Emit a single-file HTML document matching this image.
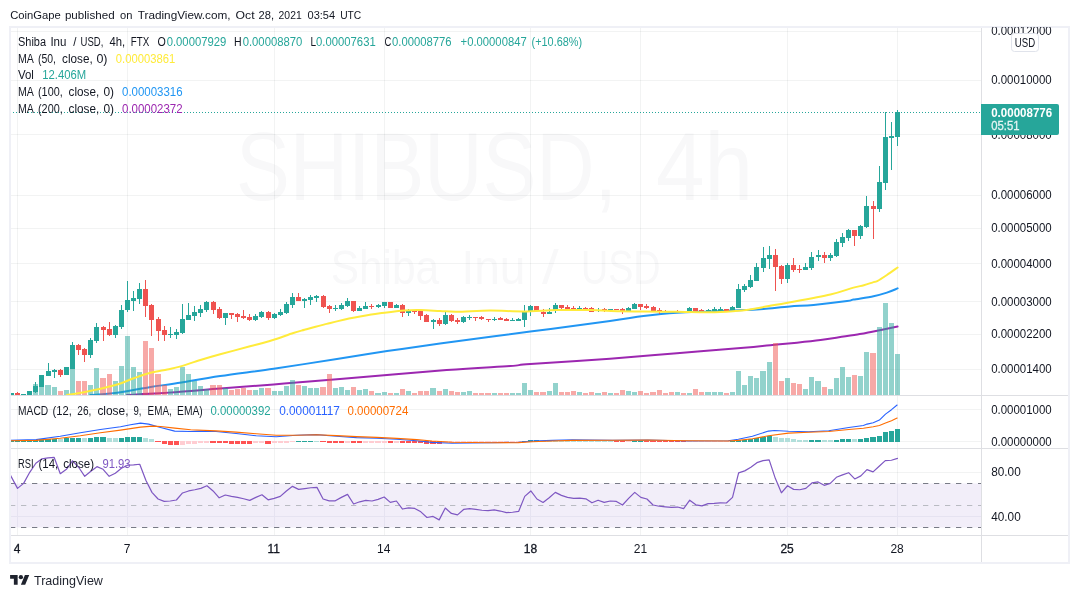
<!DOCTYPE html>
<html><head><meta charset="utf-8"><title>SHIBUSD chart</title>
<style>html,body{margin:0;padding:0;background:#fff;}body{width:1079px;height:598px;overflow:hidden;font-family:"Liberation Sans",sans-serif;}</style></head>
<body>
<svg width="1079" height="598" viewBox="0 0 1079 598" font-family="Liberation Sans, sans-serif" style="display:block;will-change:transform;transform:translateZ(0)">
<rect width="1079" height="598" fill="#fff"/>
<defs><clipPath id="cm"><rect x="10" y="27" width="971" height="368"/></clipPath><clipPath id="cd"><rect x="10" y="396" width="971" height="52"/></clipPath><clipPath id="cr"><rect x="10" y="449" width="971" height="86"/></clipPath><clipPath id="cax"><rect x="982" y="27" width="87" height="368"/></clipPath></defs>
<text x="236" y="200" font-size="97" fill="#f8f8f9" textLength="381" lengthAdjust="spacingAndGlyphs" >SHIBUSD,</text>
<text x="656" y="200" font-size="97" fill="#f8f8f9" textLength="97" lengthAdjust="spacingAndGlyphs" >4h</text>
<text x="330.7" y="283.5" font-size="48" fill="#f8f8f9" textLength="108.5" lengthAdjust="spacingAndGlyphs" >Shiba</text>
<text x="461.4" y="283.5" font-size="48" fill="#f8f8f9" textLength="64" lengthAdjust="spacingAndGlyphs" >Inu</text>
<text x="542" y="283.5" font-size="48" fill="#f8f8f9" textLength="16.7" lengthAdjust="spacingAndGlyphs" >/</text>
<text x="581" y="283.5" font-size="48" fill="#f8f8f9" textLength="79.5" lengthAdjust="spacingAndGlyphs" >USD</text>
<g stroke="rgba(42,46,57,0.06)" stroke-width="1" shape-rendering="crispEdges">
<line x1="17.5" y1="27" x2="17.5" y2="535"/>
<line x1="127.5" y1="27" x2="127.5" y2="535"/>
<line x1="274.5" y1="27" x2="274.5" y2="535"/>
<line x1="384.5" y1="27" x2="384.5" y2="535"/>
<line x1="530.5" y1="27" x2="530.5" y2="535"/>
<line x1="640.5" y1="27" x2="640.5" y2="535"/>
<line x1="787.5" y1="27" x2="787.5" y2="535"/>
<line x1="897.5" y1="27" x2="897.5" y2="535"/>
<line x1="10" y1="31.5" x2="981" y2="31.5"/>
<line x1="10" y1="80.5" x2="981" y2="80.5"/>
<line x1="10" y1="134.5" x2="981" y2="134.5"/>
<line x1="10" y1="195.5" x2="981" y2="195.5"/>
<line x1="10" y1="228.5" x2="981" y2="228.5"/>
<line x1="10" y1="263.5" x2="981" y2="263.5"/>
<line x1="10" y1="301.5" x2="981" y2="301.5"/>
<line x1="10" y1="334.5" x2="981" y2="334.5"/>
<line x1="10" y1="369.5" x2="981" y2="369.5"/>
<line x1="10" y1="409.5" x2="981" y2="409.5"/>
<line x1="10" y1="441.5" x2="981" y2="441.5"/>
<line x1="10" y1="472.5" x2="981" y2="472.5"/>
<line x1="10" y1="516.5" x2="981" y2="516.5"/>
</g>
<rect x="10" y="483.5" width="971" height="44" fill="#f2eef9"/>
<g stroke="#e6e3f1" stroke-width="1" shape-rendering="crispEdges">
<line x1="10" y1="516.5" x2="981" y2="516.5"/>
<line x1="17.5" y1="484" x2="17.5" y2="527"/>
<line x1="127.5" y1="484" x2="127.5" y2="527"/>
<line x1="274.5" y1="484" x2="274.5" y2="527"/>
<line x1="384.5" y1="484" x2="384.5" y2="527"/>
<line x1="530.5" y1="484" x2="530.5" y2="527"/>
<line x1="640.5" y1="484" x2="640.5" y2="527"/>
<line x1="787.5" y1="484" x2="787.5" y2="527"/>
<line x1="897.5" y1="484" x2="897.5" y2="527"/>
</g>
<g stroke-width="1" fill="none" stroke-dasharray="5.3 5.7">
<line x1="10" y1="483.5" x2="981" y2="483.5" stroke="#787b86"/>
<line x1="10" y1="505.5" x2="981" y2="505.5" stroke="#b9bbc2"/>
<line x1="10" y1="527.5" x2="981" y2="527.5" stroke="#787b86"/>
</g>
<g clip-path="url(#cm)">
<path d="M127 395 C135 394.55 159.47 393.37 175 392.3 C190.53 391.23 203.75 389.92 220.2 388.6 C236.65 387.28 253.73 386.02 273.7 384.4 C293.67 382.78 311.17 381.3 340 378.9 C368.83 376.5 418.37 372.15 446.7 370 C475.03 367.85 496.07 367 510 366 C523.93 365 513.63 365.22 530.3 364 C546.97 362.78 585.57 360.48 610 358.7 C634.43 356.92 654.6 355.12 676.9 353.3 C699.2 351.48 728.23 349.15 743.8 347.8 C759.37 346.45 761.43 346.05 770.3 345.2 C779.17 344.35 788.63 343.55 797 342.7 C805.37 341.85 813.52 341 820.5 340.1 C827.48 339.2 832.35 338.3 838.9 337.3 C845.45 336.3 854.03 335.08 859.8 334.1 C865.57 333.12 867.2 332.65 873.5 331.4 C879.8 330.15 893.58 327.4 897.6 326.6" fill="none" stroke="#9c27b0" stroke-width="2" stroke-linejoin="round" stroke-linecap="round" />
<path d="M90.3 395 C94.77 394.63 107.05 394.13 117.1 392.8 C127.15 391.47 140.95 388.55 150.6 387 C160.25 385.45 163.4 385.33 175 383.5 C186.6 381.67 203.75 378.47 220.2 376 C236.65 373.53 254.25 371.53 273.7 368.7 C293.15 365.87 318 361.93 336.9 359 C355.8 356.07 369.92 353.67 387.1 351.1 C404.28 348.53 416.13 346.85 440 343.6 C463.87 340.35 501.97 335.37 530.3 331.6 C558.63 327.83 591.13 323.6 610 321 C628.87 318.4 632.35 317.38 643.5 316 C654.65 314.62 665.75 313.45 676.9 312.7 C688.05 311.95 699.25 311.93 710.4 311.5 C721.55 311.07 734.95 310.52 743.8 310.1 C752.65 309.68 755.83 309.6 763.5 309 C771.17 308.4 781.45 307.18 789.8 306.5 C798.15 305.82 804.05 305.8 813.6 304.9 C823.15 304 840.45 301.98 847.1 301.1 C853.75 300.22 849.1 300.42 853.5 299.6 C857.9 298.78 867.93 297.37 873.5 296.2 C879.07 295.03 882.88 293.9 886.9 292.6 C890.92 291.3 895.82 289.1 897.6 288.4" fill="none" stroke="#2196f3" stroke-width="2" stroke-linejoin="round" stroke-linecap="round" />
</g>
<g clip-path="url(#cm)" shape-rendering="crispEdges">
<rect x="9" y="393.2" width="5" height="1.8" fill="rgba(38,166,154,0.5)"/>
<rect x="15" y="393.2" width="5" height="1.8" fill="rgba(239,83,80,0.5)"/>
<rect x="21" y="394.3" width="5" height="0.7" fill="rgba(38,166,154,0.5)"/>
<rect x="27" y="391.2" width="5" height="3.8" fill="rgba(38,166,154,0.5)"/>
<rect x="33" y="384.1" width="5" height="10.9" fill="rgba(38,166,154,0.5)"/>
<rect x="39" y="387" width="5" height="8" fill="rgba(38,166,154,0.5)"/>
<rect x="45" y="385" width="6" height="10" fill="rgba(38,166,154,0.5)"/>
<rect x="52" y="387" width="5" height="8" fill="rgba(38,166,154,0.5)"/>
<rect x="58" y="391.2" width="5" height="3.8" fill="rgba(239,83,80,0.5)"/>
<rect x="64" y="390.3" width="5" height="4.7" fill="rgba(38,166,154,0.5)"/>
<rect x="70" y="369.2" width="5" height="25.8" fill="rgba(38,166,154,0.5)"/>
<rect x="76" y="381.1" width="5" height="13.9" fill="rgba(239,83,80,0.5)"/>
<rect x="82" y="381.1" width="5" height="13.9" fill="rgba(239,83,80,0.5)"/>
<rect x="88" y="385" width="5" height="10" fill="rgba(38,166,154,0.5)"/>
<rect x="94" y="367.9" width="5" height="27.1" fill="rgba(38,166,154,0.5)"/>
<rect x="100" y="377.9" width="6" height="17.1" fill="rgba(239,83,80,0.5)"/>
<rect x="107" y="373.9" width="5" height="21.1" fill="rgba(239,83,80,0.5)"/>
<rect x="113" y="380.9" width="5" height="14.1" fill="rgba(38,166,154,0.5)"/>
<rect x="119" y="366.1" width="5" height="28.9" fill="rgba(38,166,154,0.5)"/>
<rect x="125" y="336" width="5" height="59" fill="rgba(38,166,154,0.5)"/>
<rect x="131" y="366.9" width="5" height="28.1" fill="rgba(38,166,154,0.5)"/>
<rect x="137" y="371.9" width="5" height="23.1" fill="rgba(38,166,154,0.5)"/>
<rect x="143" y="341" width="5" height="54" fill="rgba(239,83,80,0.5)"/>
<rect x="149" y="348" width="5" height="47" fill="rgba(239,83,80,0.5)"/>
<rect x="155" y="374.1" width="6" height="20.9" fill="rgba(239,83,80,0.5)"/>
<rect x="162" y="385.3" width="5" height="9.7" fill="rgba(239,83,80,0.5)"/>
<rect x="168" y="389" width="5" height="6" fill="rgba(38,166,154,0.5)"/>
<rect x="174" y="387.3" width="5" height="7.7" fill="rgba(38,166,154,0.5)"/>
<rect x="180" y="366.6" width="5" height="28.4" fill="rgba(38,166,154,0.5)"/>
<rect x="186" y="374.1" width="5" height="20.9" fill="rgba(38,166,154,0.5)"/>
<rect x="192" y="380.6" width="5" height="14.4" fill="rgba(38,166,154,0.5)"/>
<rect x="198" y="386.1" width="5" height="8.9" fill="rgba(38,166,154,0.5)"/>
<rect x="204" y="388.6" width="5" height="6.4" fill="rgba(38,166,154,0.5)"/>
<rect x="210" y="385.3" width="6" height="9.7" fill="rgba(239,83,80,0.5)"/>
<rect x="217" y="385.3" width="5" height="9.7" fill="rgba(239,83,80,0.5)"/>
<rect x="223" y="388.3" width="5" height="6.7" fill="rgba(38,166,154,0.5)"/>
<rect x="229" y="390" width="5" height="5" fill="rgba(239,83,80,0.5)"/>
<rect x="235" y="388.6" width="5" height="6.4" fill="rgba(239,83,80,0.5)"/>
<rect x="241" y="387.8" width="5" height="7.2" fill="rgba(239,83,80,0.5)"/>
<rect x="247" y="390" width="5" height="5" fill="rgba(239,83,80,0.5)"/>
<rect x="253" y="390.3" width="5" height="4.7" fill="rgba(38,166,154,0.5)"/>
<rect x="259" y="388.1" width="5" height="6.9" fill="rgba(38,166,154,0.5)"/>
<rect x="265" y="388.1" width="6" height="6.9" fill="rgba(239,83,80,0.5)"/>
<rect x="272" y="391.2" width="5" height="3.8" fill="rgba(38,166,154,0.5)"/>
<rect x="278" y="391.2" width="5" height="3.8" fill="rgba(38,166,154,0.5)"/>
<rect x="284" y="386.1" width="5" height="8.9" fill="rgba(38,166,154,0.5)"/>
<rect x="290" y="380.3" width="5" height="14.7" fill="rgba(38,166,154,0.5)"/>
<rect x="296" y="385.3" width="5" height="9.7" fill="rgba(239,83,80,0.5)"/>
<rect x="302" y="386.1" width="5" height="8.9" fill="rgba(38,166,154,0.5)"/>
<rect x="308" y="388.1" width="5" height="6.9" fill="rgba(38,166,154,0.5)"/>
<rect x="314" y="388.1" width="5" height="6.9" fill="rgba(38,166,154,0.5)"/>
<rect x="320" y="387" width="6" height="8" fill="rgba(239,83,80,0.5)"/>
<rect x="327" y="374.1" width="5" height="20.9" fill="rgba(239,83,80,0.5)"/>
<rect x="333" y="388.1" width="5" height="6.9" fill="rgba(38,166,154,0.5)"/>
<rect x="339" y="387.3" width="5" height="7.7" fill="rgba(38,166,154,0.5)"/>
<rect x="345" y="390.3" width="5" height="4.7" fill="rgba(38,166,154,0.5)"/>
<rect x="351" y="387.3" width="5" height="7.7" fill="rgba(239,83,80,0.5)"/>
<rect x="357" y="390.3" width="5" height="4.7" fill="rgba(38,166,154,0.5)"/>
<rect x="363" y="389.1" width="5" height="5.9" fill="rgba(38,166,154,0.5)"/>
<rect x="369" y="391.2" width="5" height="3.8" fill="rgba(239,83,80,0.5)"/>
<rect x="375" y="393.2" width="6" height="1.8" fill="rgba(38,166,154,0.5)"/>
<rect x="382" y="392.3" width="5" height="2.7" fill="rgba(38,166,154,0.5)"/>
<rect x="388" y="393.2" width="5" height="1.8" fill="rgba(239,83,80,0.5)"/>
<rect x="394" y="393.2" width="5" height="1.8" fill="rgba(38,166,154,0.5)"/>
<rect x="400" y="389.1" width="5" height="5.9" fill="rgba(239,83,80,0.5)"/>
<rect x="406" y="391.2" width="5" height="3.8" fill="rgba(38,166,154,0.5)"/>
<rect x="412" y="393.2" width="5" height="1.8" fill="rgba(239,83,80,0.5)"/>
<rect x="418" y="391.2" width="5" height="3.8" fill="rgba(239,83,80,0.5)"/>
<rect x="424" y="391.2" width="5" height="3.8" fill="rgba(239,83,80,0.5)"/>
<rect x="430" y="388.1" width="6" height="6.9" fill="rgba(38,166,154,0.5)"/>
<rect x="437" y="391.2" width="5" height="3.8" fill="rgba(239,83,80,0.5)"/>
<rect x="443" y="389.1" width="5" height="5.9" fill="rgba(38,166,154,0.5)"/>
<rect x="449" y="391.2" width="5" height="3.8" fill="rgba(239,83,80,0.5)"/>
<rect x="455" y="392.3" width="5" height="2.7" fill="rgba(239,83,80,0.5)"/>
<rect x="461" y="392.3" width="5" height="2.7" fill="rgba(38,166,154,0.5)"/>
<rect x="467" y="391.2" width="5" height="3.8" fill="rgba(38,166,154,0.5)"/>
<rect x="473" y="393.2" width="5" height="1.8" fill="rgba(239,83,80,0.5)"/>
<rect x="479" y="393.2" width="5" height="1.8" fill="rgba(239,83,80,0.5)"/>
<rect x="485" y="393.2" width="6" height="1.8" fill="rgba(239,83,80,0.5)"/>
<rect x="492" y="393.2" width="5" height="1.8" fill="rgba(38,166,154,0.5)"/>
<rect x="498" y="393.2" width="5" height="1.8" fill="rgba(239,83,80,0.5)"/>
<rect x="504" y="393.2" width="5" height="1.8" fill="rgba(239,83,80,0.5)"/>
<rect x="510" y="393.2" width="5" height="1.8" fill="rgba(38,166,154,0.5)"/>
<rect x="516" y="393.2" width="5" height="1.8" fill="rgba(38,166,154,0.5)"/>
<rect x="522" y="383.1" width="5" height="11.9" fill="rgba(38,166,154,0.5)"/>
<rect x="528" y="390.3" width="5" height="4.7" fill="rgba(38,166,154,0.5)"/>
<rect x="534" y="392.3" width="5" height="2.7" fill="rgba(239,83,80,0.5)"/>
<rect x="540" y="392.3" width="6" height="2.7" fill="rgba(239,83,80,0.5)"/>
<rect x="547" y="391.2" width="5" height="3.8" fill="rgba(38,166,154,0.5)"/>
<rect x="553" y="383.1" width="5" height="11.9" fill="rgba(38,166,154,0.5)"/>
<rect x="559" y="392.3" width="5" height="2.7" fill="rgba(239,83,80,0.5)"/>
<rect x="565" y="392.3" width="5" height="2.7" fill="rgba(239,83,80,0.5)"/>
<rect x="571" y="391.2" width="5" height="3.8" fill="rgba(239,83,80,0.5)"/>
<rect x="577" y="392.3" width="5" height="2.7" fill="rgba(38,166,154,0.5)"/>
<rect x="583" y="393.2" width="5" height="1.8" fill="rgba(239,83,80,0.5)"/>
<rect x="589" y="392.3" width="5" height="2.7" fill="rgba(239,83,80,0.5)"/>
<rect x="595" y="393.2" width="6" height="1.8" fill="rgba(38,166,154,0.5)"/>
<rect x="602" y="392.3" width="5" height="2.7" fill="rgba(239,83,80,0.5)"/>
<rect x="608" y="393.2" width="5" height="1.8" fill="rgba(38,166,154,0.5)"/>
<rect x="614" y="393.2" width="5" height="1.8" fill="rgba(239,83,80,0.5)"/>
<rect x="620" y="390.3" width="5" height="4.7" fill="rgba(239,83,80,0.5)"/>
<rect x="626" y="391.2" width="5" height="3.8" fill="rgba(38,166,154,0.5)"/>
<rect x="632" y="392.3" width="5" height="2.7" fill="rgba(38,166,154,0.5)"/>
<rect x="638" y="391.2" width="5" height="3.8" fill="rgba(239,83,80,0.5)"/>
<rect x="644" y="393.2" width="5" height="1.8" fill="rgba(239,83,80,0.5)"/>
<rect x="650" y="392.3" width="6" height="2.7" fill="rgba(239,83,80,0.5)"/>
<rect x="657" y="390.3" width="5" height="4.7" fill="rgba(239,83,80,0.5)"/>
<rect x="663" y="393.2" width="5" height="1.8" fill="rgba(239,83,80,0.5)"/>
<rect x="669" y="392.3" width="5" height="2.7" fill="rgba(239,83,80,0.5)"/>
<rect x="675" y="392.3" width="5" height="2.7" fill="rgba(38,166,154,0.5)"/>
<rect x="681" y="393.2" width="5" height="1.8" fill="rgba(239,83,80,0.5)"/>
<rect x="687" y="393.2" width="5" height="1.8" fill="rgba(38,166,154,0.5)"/>
<rect x="693" y="389.1" width="5" height="5.9" fill="rgba(239,83,80,0.5)"/>
<rect x="699" y="392" width="5" height="3" fill="rgba(239,83,80,0.5)"/>
<rect x="705" y="392" width="6" height="3" fill="rgba(38,166,154,0.5)"/>
<rect x="712" y="392" width="5" height="3" fill="rgba(38,166,154,0.5)"/>
<rect x="718" y="392" width="5" height="3" fill="rgba(38,166,154,0.5)"/>
<rect x="724" y="393.2" width="5" height="1.8" fill="rgba(239,83,80,0.5)"/>
<rect x="730" y="392" width="5" height="3" fill="rgba(38,166,154,0.5)"/>
<rect x="736" y="371.1" width="5" height="23.9" fill="rgba(38,166,154,0.5)"/>
<rect x="742" y="385" width="5" height="10" fill="rgba(38,166,154,0.5)"/>
<rect x="748" y="376.1" width="5" height="18.9" fill="rgba(38,166,154,0.5)"/>
<rect x="754" y="378.1" width="5" height="16.9" fill="rgba(38,166,154,0.5)"/>
<rect x="760" y="371.1" width="6" height="23.9" fill="rgba(38,166,154,0.5)"/>
<rect x="767" y="362.2" width="5" height="32.8" fill="rgba(38,166,154,0.5)"/>
<rect x="773" y="343.1" width="5" height="51.9" fill="rgba(239,83,80,0.5)"/>
<rect x="779" y="381.1" width="5" height="13.9" fill="rgba(239,83,80,0.5)"/>
<rect x="785" y="378.1" width="5" height="16.9" fill="rgba(38,166,154,0.5)"/>
<rect x="791" y="383.1" width="5" height="11.9" fill="rgba(239,83,80,0.5)"/>
<rect x="797" y="384.1" width="5" height="10.9" fill="rgba(239,83,80,0.5)"/>
<rect x="803" y="389.1" width="5" height="5.9" fill="rgba(38,166,154,0.5)"/>
<rect x="809" y="377.1" width="5" height="17.9" fill="rgba(38,166,154,0.5)"/>
<rect x="815" y="381.1" width="6" height="13.9" fill="rgba(38,166,154,0.5)"/>
<rect x="822" y="387" width="5" height="8" fill="rgba(239,83,80,0.5)"/>
<rect x="828" y="389.1" width="5" height="5.9" fill="rgba(38,166,154,0.5)"/>
<rect x="834" y="378.1" width="5" height="16.9" fill="rgba(38,166,154,0.5)"/>
<rect x="840" y="367.2" width="5" height="27.8" fill="rgba(38,166,154,0.5)"/>
<rect x="846" y="377.1" width="5" height="17.9" fill="rgba(38,166,154,0.5)"/>
<rect x="852" y="375.1" width="5" height="19.9" fill="rgba(239,83,80,0.5)"/>
<rect x="858" y="376.1" width="5" height="18.9" fill="rgba(38,166,154,0.5)"/>
<rect x="864" y="352.2" width="5" height="42.8" fill="rgba(38,166,154,0.5)"/>
<rect x="870" y="353.2" width="6" height="41.8" fill="rgba(239,83,80,0.5)"/>
<rect x="877" y="327.2" width="5" height="67.8" fill="rgba(38,166,154,0.5)"/>
<rect x="883" y="303.2" width="5" height="91.8" fill="rgba(38,166,154,0.5)"/>
<rect x="889" y="323" width="5" height="72" fill="rgba(38,166,154,0.5)"/>
<rect x="895" y="354" width="5" height="41" fill="rgba(38,166,154,0.5)"/>
</g>
<g clip-path="url(#cm)" shape-rendering="crispEdges">
<rect x="11" y="393" width="1" height="2" fill="#26a69a"/>
<rect x="9" y="393" width="5" height="2" fill="#26a69a"/>
<rect x="17" y="392" width="1" height="3" fill="#ef5350"/>
<rect x="15" y="393" width="5" height="2" fill="#ef5350"/>
<rect x="23" y="394" width="1" height="1" fill="#26a69a"/>
<rect x="21" y="394" width="5" height="1" fill="#26a69a"/>
<rect x="29" y="391" width="1" height="4" fill="#26a69a"/>
<rect x="27" y="391" width="5" height="4" fill="#26a69a"/>
<rect x="35" y="382" width="1" height="11" fill="#26a69a"/>
<rect x="33" y="386" width="5" height="6" fill="#26a69a"/>
<rect x="41" y="375" width="1" height="12" fill="#26a69a"/>
<rect x="39" y="375" width="5" height="12" fill="#26a69a"/>
<rect x="48" y="363" width="1" height="13" fill="#26a69a"/>
<rect x="46" y="371" width="5" height="5" fill="#26a69a"/>
<rect x="54" y="369" width="1" height="9" fill="#26a69a"/>
<rect x="52" y="370" width="5" height="2" fill="#26a69a"/>
<rect x="60" y="369" width="1" height="8" fill="#ef5350"/>
<rect x="58" y="370" width="5" height="5" fill="#ef5350"/>
<rect x="66" y="367" width="1" height="8" fill="#26a69a"/>
<rect x="64" y="367" width="5" height="8" fill="#26a69a"/>
<rect x="72" y="342" width="1" height="27" fill="#26a69a"/>
<rect x="70" y="345" width="5" height="24" fill="#26a69a"/>
<rect x="78" y="344" width="1" height="11" fill="#ef5350"/>
<rect x="76" y="345" width="5" height="5" fill="#ef5350"/>
<rect x="84" y="348" width="1" height="14" fill="#ef5350"/>
<rect x="82" y="349" width="5" height="6" fill="#ef5350"/>
<rect x="90" y="338" width="1" height="20" fill="#26a69a"/>
<rect x="88" y="340" width="5" height="15" fill="#26a69a"/>
<rect x="96" y="323" width="1" height="20" fill="#26a69a"/>
<rect x="94" y="327" width="5" height="14" fill="#26a69a"/>
<rect x="103" y="326" width="1" height="15" fill="#ef5350"/>
<rect x="101" y="327" width="5" height="3" fill="#ef5350"/>
<rect x="109" y="322" width="1" height="14" fill="#ef5350"/>
<rect x="107" y="329" width="5" height="6" fill="#ef5350"/>
<rect x="115" y="325" width="1" height="13" fill="#26a69a"/>
<rect x="113" y="326" width="5" height="9" fill="#26a69a"/>
<rect x="121" y="305" width="1" height="24" fill="#26a69a"/>
<rect x="119" y="310" width="5" height="17" fill="#26a69a"/>
<rect x="127" y="281" width="1" height="31" fill="#26a69a"/>
<rect x="125" y="300" width="5" height="10" fill="#26a69a"/>
<rect x="133" y="291" width="1" height="20" fill="#26a69a"/>
<rect x="131" y="298" width="5" height="3" fill="#26a69a"/>
<rect x="139" y="283" width="1" height="21" fill="#26a69a"/>
<rect x="137" y="289" width="5" height="10" fill="#26a69a"/>
<rect x="145" y="280" width="1" height="37" fill="#ef5350"/>
<rect x="143" y="289" width="5" height="17" fill="#ef5350"/>
<rect x="151" y="304" width="1" height="32" fill="#ef5350"/>
<rect x="149" y="305" width="5" height="15" fill="#ef5350"/>
<rect x="158" y="317" width="1" height="24" fill="#ef5350"/>
<rect x="156" y="319" width="5" height="12" fill="#ef5350"/>
<rect x="164" y="326" width="1" height="15" fill="#ef5350"/>
<rect x="162" y="330" width="5" height="5" fill="#ef5350"/>
<rect x="170" y="327" width="1" height="11" fill="#26a69a"/>
<rect x="168" y="334" width="5" height="1" fill="#26a69a"/>
<rect x="176" y="329" width="1" height="10" fill="#26a69a"/>
<rect x="174" y="332" width="5" height="3" fill="#26a69a"/>
<rect x="182" y="304" width="1" height="30" fill="#26a69a"/>
<rect x="180" y="319" width="5" height="14" fill="#26a69a"/>
<rect x="188" y="303" width="1" height="17" fill="#26a69a"/>
<rect x="186" y="315" width="5" height="5" fill="#26a69a"/>
<rect x="194" y="306" width="1" height="15" fill="#26a69a"/>
<rect x="192" y="312" width="5" height="4" fill="#26a69a"/>
<rect x="200" y="305" width="1" height="12" fill="#26a69a"/>
<rect x="198" y="309" width="5" height="4" fill="#26a69a"/>
<rect x="206" y="301" width="1" height="11" fill="#26a69a"/>
<rect x="204" y="302" width="5" height="8" fill="#26a69a"/>
<rect x="213" y="301" width="1" height="13" fill="#ef5350"/>
<rect x="211" y="302" width="5" height="8" fill="#ef5350"/>
<rect x="219" y="307" width="1" height="12" fill="#ef5350"/>
<rect x="217" y="309" width="5" height="9" fill="#ef5350"/>
<rect x="225" y="313" width="1" height="12" fill="#26a69a"/>
<rect x="223" y="313" width="5" height="5" fill="#26a69a"/>
<rect x="231" y="313" width="1" height="6" fill="#ef5350"/>
<rect x="229" y="313" width="5" height="2" fill="#ef5350"/>
<rect x="237" y="313" width="1" height="9" fill="#ef5350"/>
<rect x="235" y="314" width="5" height="3" fill="#ef5350"/>
<rect x="243" y="310" width="1" height="9" fill="#ef5350"/>
<rect x="241" y="316" width="5" height="2" fill="#ef5350"/>
<rect x="249" y="314" width="1" height="7" fill="#ef5350"/>
<rect x="247" y="317" width="5" height="3" fill="#ef5350"/>
<rect x="255" y="314" width="1" height="7" fill="#26a69a"/>
<rect x="253" y="316" width="5" height="4" fill="#26a69a"/>
<rect x="261" y="311" width="1" height="7" fill="#26a69a"/>
<rect x="259" y="312" width="5" height="5" fill="#26a69a"/>
<rect x="268" y="311" width="1" height="9" fill="#ef5350"/>
<rect x="266" y="312" width="5" height="6" fill="#ef5350"/>
<rect x="274" y="313" width="1" height="6" fill="#26a69a"/>
<rect x="272" y="314" width="5" height="4" fill="#26a69a"/>
<rect x="280" y="309" width="1" height="7" fill="#26a69a"/>
<rect x="278" y="312" width="5" height="3" fill="#26a69a"/>
<rect x="286" y="302" width="1" height="12" fill="#26a69a"/>
<rect x="284" y="304" width="5" height="9" fill="#26a69a"/>
<rect x="292" y="293" width="1" height="15" fill="#26a69a"/>
<rect x="290" y="297" width="5" height="8" fill="#26a69a"/>
<rect x="298" y="293" width="1" height="8" fill="#ef5350"/>
<rect x="296" y="297" width="5" height="4" fill="#ef5350"/>
<rect x="304" y="298" width="1" height="10" fill="#26a69a"/>
<rect x="302" y="299" width="5" height="2" fill="#26a69a"/>
<rect x="310" y="295" width="1" height="10" fill="#26a69a"/>
<rect x="308" y="297" width="5" height="3" fill="#26a69a"/>
<rect x="316" y="295" width="1" height="7" fill="#26a69a"/>
<rect x="314" y="296" width="5" height="2" fill="#26a69a"/>
<rect x="323" y="295" width="1" height="13" fill="#ef5350"/>
<rect x="321" y="296" width="5" height="11" fill="#ef5350"/>
<rect x="329" y="305" width="1" height="8" fill="#ef5350"/>
<rect x="327" y="306" width="5" height="3" fill="#ef5350"/>
<rect x="335" y="305" width="1" height="6" fill="#26a69a"/>
<rect x="333" y="308" width="5" height="1" fill="#26a69a"/>
<rect x="341" y="303" width="1" height="7" fill="#26a69a"/>
<rect x="339" y="305" width="5" height="4" fill="#26a69a"/>
<rect x="347" y="298" width="1" height="9" fill="#26a69a"/>
<rect x="345" y="301" width="5" height="5" fill="#26a69a"/>
<rect x="353" y="301" width="1" height="11" fill="#ef5350"/>
<rect x="351" y="301" width="5" height="10" fill="#ef5350"/>
<rect x="359" y="306" width="1" height="5" fill="#26a69a"/>
<rect x="357" y="308" width="5" height="3" fill="#26a69a"/>
<rect x="365" y="302" width="1" height="7" fill="#26a69a"/>
<rect x="363" y="306" width="5" height="3" fill="#26a69a"/>
<rect x="371" y="304" width="1" height="5" fill="#ef5350"/>
<rect x="369" y="306" width="5" height="1" fill="#ef5350"/>
<rect x="378" y="304" width="1" height="4" fill="#26a69a"/>
<rect x="376" y="305" width="5" height="2" fill="#26a69a"/>
<rect x="384" y="302" width="1" height="6" fill="#26a69a"/>
<rect x="382" y="302" width="5" height="4" fill="#26a69a"/>
<rect x="390" y="302" width="1" height="6" fill="#ef5350"/>
<rect x="388" y="302" width="5" height="6" fill="#ef5350"/>
<rect x="396" y="304" width="1" height="4" fill="#26a69a"/>
<rect x="394" y="305" width="5" height="3" fill="#26a69a"/>
<rect x="402" y="304" width="1" height="13" fill="#ef5350"/>
<rect x="400" y="305" width="5" height="8" fill="#ef5350"/>
<rect x="408" y="309" width="1" height="7" fill="#26a69a"/>
<rect x="406" y="310" width="5" height="3" fill="#26a69a"/>
<rect x="414" y="311" width="1" height="3" fill="#ef5350"/>
<rect x="412" y="311" width="5" height="1" fill="#ef5350"/>
<rect x="420" y="311" width="1" height="9" fill="#ef5350"/>
<rect x="418" y="311" width="5" height="5" fill="#ef5350"/>
<rect x="426" y="314" width="1" height="8" fill="#ef5350"/>
<rect x="424" y="315" width="5" height="7" fill="#ef5350"/>
<rect x="433" y="319" width="1" height="10" fill="#26a69a"/>
<rect x="431" y="320" width="5" height="2" fill="#26a69a"/>
<rect x="439" y="318" width="1" height="8" fill="#ef5350"/>
<rect x="437" y="320" width="5" height="4" fill="#ef5350"/>
<rect x="445" y="312" width="1" height="13" fill="#26a69a"/>
<rect x="443" y="315" width="5" height="9" fill="#26a69a"/>
<rect x="451" y="314" width="1" height="8" fill="#ef5350"/>
<rect x="449" y="315" width="5" height="6" fill="#ef5350"/>
<rect x="457" y="318" width="1" height="6" fill="#ef5350"/>
<rect x="455" y="320" width="5" height="2" fill="#ef5350"/>
<rect x="463" y="316" width="1" height="7" fill="#26a69a"/>
<rect x="461" y="317" width="5" height="5" fill="#26a69a"/>
<rect x="469" y="315" width="1" height="5" fill="#26a69a"/>
<rect x="467" y="317" width="5" height="1" fill="#26a69a"/>
<rect x="475" y="317" width="1" height="4" fill="#ef5350"/>
<rect x="473" y="317" width="5" height="1" fill="#ef5350"/>
<rect x="481" y="316" width="1" height="4" fill="#ef5350"/>
<rect x="479" y="317" width="5" height="2" fill="#ef5350"/>
<rect x="488" y="319" width="1" height="3" fill="#ef5350"/>
<rect x="486" y="319" width="5" height="1" fill="#ef5350"/>
<rect x="494" y="317" width="1" height="4" fill="#26a69a"/>
<rect x="492" y="319" width="5" height="1" fill="#26a69a"/>
<rect x="500" y="317" width="1" height="3" fill="#ef5350"/>
<rect x="498" y="318" width="5" height="2" fill="#ef5350"/>
<rect x="506" y="318" width="1" height="3" fill="#ef5350"/>
<rect x="504" y="319" width="5" height="2" fill="#ef5350"/>
<rect x="512" y="318" width="1" height="3" fill="#26a69a"/>
<rect x="510" y="320" width="5" height="1" fill="#26a69a"/>
<rect x="518" y="318" width="1" height="3" fill="#26a69a"/>
<rect x="516" y="319" width="5" height="2" fill="#26a69a"/>
<rect x="524" y="305" width="1" height="22" fill="#26a69a"/>
<rect x="522" y="311" width="5" height="9" fill="#26a69a"/>
<rect x="530" y="305" width="1" height="11" fill="#26a69a"/>
<rect x="528" y="306" width="5" height="5" fill="#26a69a"/>
<rect x="536" y="306" width="1" height="5" fill="#ef5350"/>
<rect x="534" y="306" width="5" height="5" fill="#ef5350"/>
<rect x="543" y="309" width="1" height="8" fill="#ef5350"/>
<rect x="541" y="312" width="5" height="2" fill="#ef5350"/>
<rect x="549" y="308" width="1" height="6" fill="#26a69a"/>
<rect x="547" y="312" width="5" height="2" fill="#26a69a"/>
<rect x="555" y="303" width="1" height="10" fill="#26a69a"/>
<rect x="553" y="305" width="5" height="5" fill="#26a69a"/>
<rect x="561" y="305" width="1" height="5" fill="#ef5350"/>
<rect x="559" y="305" width="5" height="3" fill="#ef5350"/>
<rect x="567" y="305" width="1" height="5" fill="#ef5350"/>
<rect x="565" y="307" width="5" height="2" fill="#ef5350"/>
<rect x="573" y="306" width="1" height="4" fill="#ef5350"/>
<rect x="571" y="308" width="5" height="1" fill="#ef5350"/>
<rect x="579" y="306" width="1" height="4" fill="#26a69a"/>
<rect x="577" y="308" width="5" height="1" fill="#26a69a"/>
<rect x="585" y="307" width="1" height="3" fill="#ef5350"/>
<rect x="583" y="308" width="5" height="1" fill="#ef5350"/>
<rect x="591" y="307" width="1" height="5" fill="#ef5350"/>
<rect x="589" y="308" width="5" height="4" fill="#ef5350"/>
<rect x="598" y="308" width="1" height="4" fill="#26a69a"/>
<rect x="596" y="310" width="5" height="1" fill="#26a69a"/>
<rect x="604" y="308" width="1" height="4" fill="#ef5350"/>
<rect x="602" y="309" width="5" height="2" fill="#ef5350"/>
<rect x="610" y="309" width="1" height="1" fill="#26a69a"/>
<rect x="608" y="309" width="5" height="1" fill="#26a69a"/>
<rect x="616" y="309" width="1" height="1" fill="#ef5350"/>
<rect x="614" y="309" width="5" height="1" fill="#ef5350"/>
<rect x="622" y="308" width="1" height="6" fill="#ef5350"/>
<rect x="620" y="309" width="5" height="2" fill="#ef5350"/>
<rect x="628" y="307" width="1" height="4" fill="#26a69a"/>
<rect x="626" y="308" width="5" height="3" fill="#26a69a"/>
<rect x="634" y="303" width="1" height="6" fill="#26a69a"/>
<rect x="632" y="304" width="5" height="5" fill="#26a69a"/>
<rect x="640" y="304" width="1" height="6" fill="#ef5350"/>
<rect x="638" y="304" width="5" height="3" fill="#ef5350"/>
<rect x="646" y="304" width="1" height="5" fill="#ef5350"/>
<rect x="644" y="306" width="5" height="2" fill="#ef5350"/>
<rect x="653" y="306" width="1" height="5" fill="#ef5350"/>
<rect x="651" y="307" width="5" height="4" fill="#ef5350"/>
<rect x="659" y="308" width="1" height="6" fill="#ef5350"/>
<rect x="657" y="310" width="5" height="1" fill="#ef5350"/>
<rect x="665" y="310" width="1" height="2" fill="#ef5350"/>
<rect x="663" y="311" width="5" height="1" fill="#ef5350"/>
<rect x="671" y="311" width="1" height="1" fill="#ef5350"/>
<rect x="669" y="311" width="5" height="1" fill="#ef5350"/>
<rect x="677" y="310" width="1" height="2" fill="#ef5350"/>
<rect x="675" y="311" width="5" height="1" fill="#ef5350"/>
<rect x="683" y="311" width="1" height="1" fill="#ef5350"/>
<rect x="681" y="311" width="5" height="1" fill="#ef5350"/>
<rect x="689" y="307" width="1" height="4" fill="#26a69a"/>
<rect x="687" y="308" width="5" height="3" fill="#26a69a"/>
<rect x="695" y="308" width="1" height="4" fill="#ef5350"/>
<rect x="693" y="308" width="5" height="3" fill="#ef5350"/>
<rect x="701" y="309" width="1" height="2" fill="#ef5350"/>
<rect x="699" y="310" width="5" height="1" fill="#ef5350"/>
<rect x="708" y="309" width="1" height="2" fill="#26a69a"/>
<rect x="706" y="310" width="5" height="1" fill="#26a69a"/>
<rect x="714" y="307" width="1" height="4" fill="#26a69a"/>
<rect x="712" y="309" width="5" height="2" fill="#26a69a"/>
<rect x="720" y="307" width="1" height="4" fill="#26a69a"/>
<rect x="718" y="309" width="5" height="2" fill="#26a69a"/>
<rect x="726" y="309" width="1" height="2" fill="#ef5350"/>
<rect x="724" y="309" width="5" height="2" fill="#ef5350"/>
<rect x="732" y="306" width="1" height="4" fill="#26a69a"/>
<rect x="730" y="307" width="5" height="3" fill="#26a69a"/>
<rect x="738" y="284" width="1" height="24" fill="#26a69a"/>
<rect x="736" y="289" width="5" height="19" fill="#26a69a"/>
<rect x="744" y="284" width="1" height="8" fill="#26a69a"/>
<rect x="742" y="286" width="5" height="4" fill="#26a69a"/>
<rect x="750" y="275" width="1" height="13" fill="#26a69a"/>
<rect x="748" y="280" width="5" height="7" fill="#26a69a"/>
<rect x="756" y="263" width="1" height="18" fill="#26a69a"/>
<rect x="754" y="267" width="5" height="14" fill="#26a69a"/>
<rect x="763" y="247" width="1" height="25" fill="#26a69a"/>
<rect x="761" y="258" width="5" height="10" fill="#26a69a"/>
<rect x="769" y="246" width="1" height="23" fill="#26a69a"/>
<rect x="767" y="255" width="5" height="4" fill="#26a69a"/>
<rect x="775" y="249" width="1" height="42" fill="#ef5350"/>
<rect x="773" y="255" width="5" height="12" fill="#ef5350"/>
<rect x="781" y="265" width="1" height="19" fill="#ef5350"/>
<rect x="779" y="266" width="5" height="13" fill="#ef5350"/>
<rect x="787" y="263" width="1" height="20" fill="#26a69a"/>
<rect x="785" y="265" width="5" height="14" fill="#26a69a"/>
<rect x="793" y="258" width="1" height="14" fill="#ef5350"/>
<rect x="791" y="265" width="5" height="5" fill="#ef5350"/>
<rect x="799" y="265" width="1" height="8" fill="#ef5350"/>
<rect x="797" y="269" width="5" height="1" fill="#ef5350"/>
<rect x="805" y="263" width="1" height="7" fill="#26a69a"/>
<rect x="803" y="267" width="5" height="3" fill="#26a69a"/>
<rect x="811" y="252" width="1" height="18" fill="#26a69a"/>
<rect x="809" y="257" width="5" height="11" fill="#26a69a"/>
<rect x="818" y="250" width="1" height="11" fill="#26a69a"/>
<rect x="816" y="255" width="5" height="2" fill="#26a69a"/>
<rect x="824" y="252" width="1" height="11" fill="#ef5350"/>
<rect x="822" y="255" width="5" height="3" fill="#ef5350"/>
<rect x="830" y="253" width="1" height="8" fill="#26a69a"/>
<rect x="828" y="255" width="5" height="3" fill="#26a69a"/>
<rect x="836" y="239" width="1" height="18" fill="#26a69a"/>
<rect x="834" y="242" width="5" height="14" fill="#26a69a"/>
<rect x="842" y="233" width="1" height="14" fill="#26a69a"/>
<rect x="840" y="237" width="5" height="6" fill="#26a69a"/>
<rect x="848" y="229" width="1" height="12" fill="#26a69a"/>
<rect x="846" y="230" width="5" height="8" fill="#26a69a"/>
<rect x="854" y="230" width="1" height="16" fill="#ef5350"/>
<rect x="852" y="230" width="5" height="6" fill="#ef5350"/>
<rect x="860" y="225" width="1" height="14" fill="#26a69a"/>
<rect x="858" y="226" width="5" height="10" fill="#26a69a"/>
<rect x="866" y="196" width="1" height="32" fill="#26a69a"/>
<rect x="864" y="206" width="5" height="21" fill="#26a69a"/>
<rect x="873" y="201" width="1" height="38" fill="#ef5350"/>
<rect x="871" y="206" width="5" height="3" fill="#ef5350"/>
<rect x="879" y="166" width="1" height="46" fill="#26a69a"/>
<rect x="877" y="182" width="5" height="27" fill="#26a69a"/>
<rect x="885" y="112" width="1" height="78" fill="#26a69a"/>
<rect x="883" y="137" width="5" height="46" fill="#26a69a"/>
<rect x="891" y="122" width="1" height="48" fill="#26a69a"/>
<rect x="889" y="136" width="5" height="2" fill="#26a69a"/>
<rect x="897" y="110" width="1" height="36" fill="#26a69a"/>
<rect x="895" y="112" width="5" height="25" fill="#26a69a"/>
</g>
<g clip-path="url(#cm)">
<path d="M66.9 395 C69.92 394.5 79.42 393.05 85 392 C90.58 390.95 95.05 389.95 100.4 388.7 C105.75 387.45 111.53 386.23 117.1 384.5 C122.67 382.77 128.22 380.25 133.8 378.3 C139.38 376.35 145.02 374.28 150.6 372.8 C156.18 371.32 162.43 370.43 167.3 369.4 C172.17 368.37 174.28 368.17 179.8 366.6 C185.32 365.03 193.67 362.05 200.4 360 C207.13 357.95 211.93 356.58 220.2 354.3 C228.47 352.02 243.37 348.07 250 346.3 C256.63 344.53 255.92 344.83 260 343.7 C264.08 342.57 268.93 341.28 274.5 339.5 C280.07 337.72 288.4 334.62 293.4 333 C298.4 331.38 300.8 330.85 304.5 329.8 C308.2 328.75 311.9 327.68 315.6 326.7 C319.3 325.72 322.98 324.83 326.7 323.9 C330.42 322.97 334.18 321.98 337.9 321.1 C341.62 320.22 345.3 319.38 349 318.6 C352.7 317.82 356.4 317.08 360.1 316.4 C363.8 315.72 367.88 315.02 371.2 314.5 C374.52 313.98 374.57 313.97 380 313.3 C385.43 312.63 397.03 311.03 403.8 310.5 C410.57 309.97 414.57 310.02 420.6 310.1 C426.63 310.18 433.98 310.72 440 311 C446.02 311.28 448.33 311.87 456.7 311.8 C465.07 311.73 479.05 310.65 490.2 310.6 C501.35 310.55 512.47 311.58 523.6 311.5 C534.73 311.42 545.93 310.33 557 310.1 C568.07 309.87 579.53 309.9 590 310.1 C600.47 310.3 610.88 311.07 619.8 311.3 C628.72 311.53 633.98 311.42 643.5 311.5 C653.02 311.58 665.75 311.68 676.9 311.8 C688.05 311.92 700.63 312.33 710.4 312.2 C720.17 312.07 729.17 311.4 735.5 311 C741.83 310.6 744.82 310.25 748.4 309.8 C751.98 309.35 753.58 308.93 757 308.3 C760.42 307.67 763.78 306.92 768.9 306 C774.02 305.08 777.45 304.72 787.7 302.8 C797.95 300.88 819.43 297.03 830.4 294.5 C841.37 291.97 847.93 289.13 853.5 287.6 C859.07 286.07 860.47 286.22 863.8 285.3 C867.13 284.38 871.27 282.8 873.5 282.1 C875.73 281.4 874.97 282.28 877.2 281.1 C879.43 279.92 883.5 277.27 886.9 275 C890.3 272.73 895.82 268.75 897.6 267.5" fill="none" stroke="#ffeb3b" stroke-width="2" stroke-linejoin="round" stroke-linecap="round" />
</g>
<line x1="10" y1="112.5" x2="981" y2="112.5" stroke="#26a69a" stroke-width="1" stroke-dasharray="1 2" shape-rendering="crispEdges"/>
<g clip-path="url(#cd)">
<rect x="9" y="440" width="5" height="2" fill="#26a69a"/>
<rect x="15" y="440" width="5" height="2" fill="#26a69a"/>
<rect x="21" y="440" width="5" height="2" fill="#26a69a"/>
<rect x="27" y="440" width="5" height="2" fill="#26a69a"/>
<rect x="33" y="440" width="5" height="2" fill="#26a69a"/>
<rect x="39" y="439" width="5" height="3" fill="#26a69a"/>
<rect x="45" y="439" width="6" height="3" fill="#26a69a"/>
<rect x="52" y="439" width="5" height="3" fill="#26a69a"/>
<rect x="58" y="439" width="5" height="3" fill="#b2dfdb"/>
<rect x="64" y="438" width="5" height="4" fill="#26a69a"/>
<rect x="70" y="438" width="5" height="4" fill="#26a69a"/>
<rect x="76" y="438" width="5" height="4" fill="#26a69a"/>
<rect x="82" y="438" width="5" height="4" fill="#b2dfdb"/>
<rect x="88" y="438" width="5" height="4" fill="#26a69a"/>
<rect x="94" y="437" width="5" height="5" fill="#26a69a"/>
<rect x="100" y="437" width="6" height="5" fill="#26a69a"/>
<rect x="107" y="438" width="5" height="4" fill="#b2dfdb"/>
<rect x="113" y="438" width="5" height="4" fill="#b2dfdb"/>
<rect x="119" y="438" width="5" height="4" fill="#26a69a"/>
<rect x="125" y="437" width="5" height="5" fill="#26a69a"/>
<rect x="131" y="437" width="5" height="5" fill="#26a69a"/>
<rect x="137" y="437" width="5" height="5" fill="#26a69a"/>
<rect x="143" y="438" width="5" height="4" fill="#b2dfdb"/>
<rect x="149" y="439" width="5" height="3" fill="#b2dfdb"/>
<rect x="155" y="441" width="6" height="1" fill="#ff5252"/>
<rect x="162" y="441" width="5" height="3" fill="#ff5252"/>
<rect x="168" y="441" width="5" height="4" fill="#ff5252"/>
<rect x="174" y="441" width="5" height="4" fill="#ff5252"/>
<rect x="180" y="441" width="5" height="4" fill="#ffcdd2"/>
<rect x="186" y="441" width="5" height="3" fill="#ffcdd2"/>
<rect x="192" y="441" width="5" height="3" fill="#ffcdd2"/>
<rect x="198" y="441" width="5" height="2" fill="#ffcdd2"/>
<rect x="204" y="441" width="5" height="2" fill="#ffcdd2"/>
<rect x="210" y="441" width="6" height="2" fill="#ff5252"/>
<rect x="217" y="441" width="5" height="2" fill="#ff5252"/>
<rect x="223" y="441" width="5" height="2" fill="#ff5252"/>
<rect x="229" y="441" width="5" height="3" fill="#ff5252"/>
<rect x="235" y="441" width="5" height="3" fill="#ff5252"/>
<rect x="241" y="441" width="5" height="3" fill="#ff5252"/>
<rect x="247" y="441" width="5" height="3" fill="#ff5252"/>
<rect x="253" y="441" width="5" height="2" fill="#ffcdd2"/>
<rect x="259" y="441" width="5" height="2" fill="#ffcdd2"/>
<rect x="265" y="441" width="6" height="3" fill="#ff5252"/>
<rect x="272" y="441" width="5" height="2" fill="#ffcdd2"/>
<rect x="278" y="441" width="5" height="2" fill="#ffcdd2"/>
<rect x="284" y="441" width="5" height="2" fill="#ffcdd2"/>
<rect x="290" y="441" width="5" height="1" fill="#ffcdd2"/>
<rect x="296" y="441" width="5" height="1" fill="#26a69a"/>
<rect x="302" y="441" width="5" height="1" fill="#26a69a"/>
<rect x="308" y="441" width="5" height="1" fill="#26a69a"/>
<rect x="314" y="441" width="5" height="1" fill="#b2dfdb"/>
<rect x="320" y="441" width="6" height="1" fill="#ff5252"/>
<rect x="327" y="441" width="5" height="2" fill="#ff5252"/>
<rect x="333" y="441" width="5" height="2" fill="#ff5252"/>
<rect x="339" y="441" width="5" height="2" fill="#ff5252"/>
<rect x="345" y="441" width="5" height="2" fill="#ffcdd2"/>
<rect x="351" y="441" width="5" height="2" fill="#ff5252"/>
<rect x="357" y="441" width="5" height="2" fill="#ff5252"/>
<rect x="363" y="441" width="5" height="2" fill="#ffcdd2"/>
<rect x="369" y="441" width="5" height="2" fill="#ffcdd2"/>
<rect x="375" y="441" width="6" height="2" fill="#ffcdd2"/>
<rect x="382" y="441" width="5" height="2" fill="#ffcdd2"/>
<rect x="388" y="441" width="5" height="2" fill="#ff5252"/>
<rect x="394" y="441" width="5" height="2" fill="#ffcdd2"/>
<rect x="400" y="441" width="5" height="2" fill="#ff5252"/>
<rect x="406" y="441" width="5" height="2" fill="#ff5252"/>
<rect x="412" y="441" width="5" height="2" fill="#ff5252"/>
<rect x="418" y="441" width="5" height="2" fill="#ff5252"/>
<rect x="424" y="441" width="5" height="3" fill="#ff5252"/>
<rect x="430" y="441" width="6" height="3" fill="#ff5252"/>
<rect x="437" y="441" width="5" height="3" fill="#ff5252"/>
<rect x="443" y="441" width="5" height="2" fill="#ffcdd2"/>
<rect x="449" y="441" width="5" height="2" fill="#ffcdd2"/>
<rect x="455" y="441" width="5" height="2" fill="#ffcdd2"/>
<rect x="461" y="441" width="5" height="1" fill="#ffcdd2"/>
<rect x="467" y="441" width="5" height="1" fill="#ffcdd2"/>
<rect x="473" y="441" width="5" height="1" fill="#ffcdd2"/>
<rect x="479" y="441" width="5" height="1" fill="#ffcdd2"/>
<rect x="485" y="441" width="6" height="1" fill="#ffcdd2"/>
<rect x="492" y="441" width="5" height="1" fill="#ffcdd2"/>
<rect x="498" y="441" width="5" height="1" fill="#ffcdd2"/>
<rect x="504" y="441" width="5" height="1" fill="#ffcdd2"/>
<rect x="510" y="441" width="5" height="1" fill="#ffcdd2"/>
<rect x="516" y="441" width="5" height="1" fill="#ffcdd2"/>
<rect x="522" y="441" width="5" height="1" fill="#26a69a"/>
<rect x="528" y="440" width="5" height="2" fill="#26a69a"/>
<rect x="534" y="440" width="5" height="2" fill="#26a69a"/>
<rect x="540" y="441" width="6" height="1" fill="#b2dfdb"/>
<rect x="547" y="441" width="5" height="1" fill="#b2dfdb"/>
<rect x="553" y="441" width="5" height="1" fill="#b2dfdb"/>
<rect x="559" y="441" width="5" height="1" fill="#b2dfdb"/>
<rect x="565" y="441" width="5" height="1" fill="#b2dfdb"/>
<rect x="571" y="441" width="5" height="1" fill="#b2dfdb"/>
<rect x="577" y="441" width="5" height="1" fill="#b2dfdb"/>
<rect x="583" y="441" width="5" height="1" fill="#b2dfdb"/>
<rect x="589" y="441" width="5" height="1" fill="#b2dfdb"/>
<rect x="595" y="441" width="6" height="1" fill="#b2dfdb"/>
<rect x="602" y="441" width="5" height="1" fill="#b2dfdb"/>
<rect x="608" y="441" width="5" height="1" fill="#b2dfdb"/>
<rect x="614" y="441" width="5" height="1" fill="#ff5252"/>
<rect x="620" y="441" width="5" height="1" fill="#ff5252"/>
<rect x="626" y="441" width="5" height="1" fill="#ffcdd2"/>
<rect x="632" y="441" width="5" height="1" fill="#26a69a"/>
<rect x="638" y="441" width="5" height="1" fill="#26a69a"/>
<rect x="644" y="441" width="5" height="1" fill="#ff5252"/>
<rect x="650" y="441" width="6" height="1" fill="#ff5252"/>
<rect x="657" y="441" width="5" height="1" fill="#ff5252"/>
<rect x="663" y="441" width="5" height="1" fill="#ff5252"/>
<rect x="669" y="441" width="5" height="1" fill="#ff5252"/>
<rect x="675" y="441" width="5" height="1" fill="#ff5252"/>
<rect x="681" y="441" width="5" height="1" fill="#ff5252"/>
<rect x="687" y="441" width="5" height="1" fill="#ffcdd2"/>
<rect x="693" y="441" width="5" height="1" fill="#ffcdd2"/>
<rect x="699" y="441" width="5" height="1" fill="#ffcdd2"/>
<rect x="705" y="441" width="6" height="1" fill="#ffcdd2"/>
<rect x="712" y="441" width="5" height="1" fill="#ffcdd2"/>
<rect x="718" y="441" width="5" height="1" fill="#ffcdd2"/>
<rect x="724" y="441" width="5" height="1" fill="#ffcdd2"/>
<rect x="730" y="441" width="5" height="1" fill="#26a69a"/>
<rect x="736" y="440" width="5" height="2" fill="#26a69a"/>
<rect x="742" y="440" width="5" height="2" fill="#26a69a"/>
<rect x="748" y="439" width="5" height="3" fill="#26a69a"/>
<rect x="754" y="438" width="5" height="4" fill="#26a69a"/>
<rect x="760" y="437" width="6" height="5" fill="#26a69a"/>
<rect x="767" y="436" width="5" height="6" fill="#26a69a"/>
<rect x="773" y="437" width="5" height="5" fill="#b2dfdb"/>
<rect x="779" y="438" width="5" height="4" fill="#b2dfdb"/>
<rect x="785" y="438" width="5" height="4" fill="#b2dfdb"/>
<rect x="791" y="439" width="5" height="3" fill="#b2dfdb"/>
<rect x="797" y="440" width="5" height="2" fill="#b2dfdb"/>
<rect x="803" y="440" width="5" height="2" fill="#b2dfdb"/>
<rect x="809" y="440" width="5" height="2" fill="#26a69a"/>
<rect x="815" y="440" width="6" height="2" fill="#26a69a"/>
<rect x="822" y="440" width="5" height="2" fill="#b2dfdb"/>
<rect x="828" y="440" width="5" height="2" fill="#b2dfdb"/>
<rect x="834" y="440" width="5" height="2" fill="#26a69a"/>
<rect x="840" y="439" width="5" height="3" fill="#26a69a"/>
<rect x="846" y="439" width="5" height="3" fill="#26a69a"/>
<rect x="852" y="439" width="5" height="3" fill="#b2dfdb"/>
<rect x="858" y="439" width="5" height="3" fill="#26a69a"/>
<rect x="864" y="438" width="5" height="4" fill="#26a69a"/>
<rect x="870" y="437" width="6" height="5" fill="#26a69a"/>
<rect x="877" y="436" width="5" height="6" fill="#26a69a"/>
<rect x="883" y="432" width="5" height="10" fill="#26a69a"/>
<rect x="889" y="431" width="5" height="11" fill="#26a69a"/>
<rect x="895" y="429" width="5" height="13" fill="#26a69a"/>
<path d="M10 440.2 L36.1 439.6 L60.2 436.2 L80.3 432.7 L100.4 429.5 L120.5 426.7 L130.5 424.7 L140.5 423.1 L148.6 424.1 L160.6 427.5 L174.7 431.1 L190.7 431.5 L200.8 431.1 L216 431.5 L236.1 433.5 L256.2 435.8 L276.2 436.8 L296.3 435.2 L316.4 434.6 L336.5 436.2 L356.5 437.6 L376.6 438.2 L396.7 439.2 L416.8 440.8 L432 442.4 L452.1 443.2 L492.2 442.8 L518.3 442.2 L532.4 441 L552.5 440.4 L572.5 439.8 L612.7 440.2 L648 440 L688.2 441 L728.3 440.8 L738.3 439.2 L752.4 436.2 L768.5 431.1 L774.5 430.5 L788.5 431.3 L808.6 431.7 L828.7 430.7 L848.8 427.5 L863.4 425.5 L867.1 424.1 L873.2 422.7 L879.4 420.1 L885.5 414.1 L891.5 409.7 L897.1 405" fill="none" stroke="#2962ff" stroke-width="1.1" stroke-linejoin="round" stroke-linecap="round" />
<path d="M10 440.8 L36.1 440.4 L60.2 438.2 L80.3 435.8 L100.4 432.7 L120.5 430.1 L140.5 427.1 L152.6 426.1 L160.6 426.5 L174.7 428.1 L190.7 429.7 L216 430.9 L236.1 432.1 L256.2 433.7 L276.2 435.2 L296.3 435.2 L316.4 434.8 L336.5 435.6 L356.5 436.6 L376.6 437.4 L396.7 438.4 L416.8 439.6 L432 441 L452.1 442.2 L492.2 442.8 L518.3 442.6 L532.4 441.8 L552.5 441 L572.5 440.4 L612.7 440.2 L648 440 L688.2 440.8 L728.3 441 L738.3 440.4 L752.4 438.8 L768.5 435.8 L788.5 433.1 L808.6 432.3 L828.7 431.5 L848.8 429.5 L863.4 428.2 L873.2 426.7 L879.4 425.5 L885.5 423.1 L891.5 420.7 L897.1 418.1" fill="none" stroke="#ff6d00" stroke-width="1.1" stroke-linejoin="round" stroke-linecap="round" />
</g>
<g clip-path="url(#cr)">
<path d="M10.5 475.31 L17.52 488.35 L23.63 483.34 L29.74 472.29 L35.85 463.26 L41.96 458.84 L48.08 457.84 L54.19 457.44 L60.3 473.7 L66.41 469.28 L72.52 460.85 L78.63 467.27 L84.74 476.31 L90.85 471.29 L96.96 466.67 L103.07 469.28 L109.18 476.31 L115.3 473.3 L121.41 468.28 L127.52 465.27 L133.63 464.87 L139.74 464.26 L145.85 480.32 L151.96 492.37 L158.07 499 L164.18 501.4 L170.3 501 L176.41 500 L182.52 492.97 L188.63 490.96 L194.74 489.76 L200.85 488.35 L206.96 485.74 L213.07 490.96 L219.18 497.79 L225.29 494.98 L231.41 496.39 L237.52 497.39 L243.63 498.79 L249.74 500.4 L255.85 497.39 L261.96 494.78 L268.07 499.8 L274.18 498.39 L280.29 496.39 L286.4 490.96 L292.51 486.35 L298.63 489.36 L304.74 488.56 L310.85 487.75 L316.96 487.35 L323.07 499 L329.18 500.8 L335.29 500.8 L341.4 497.39 L347.51 494.38 L353.62 504.01 L359.74 501.81 L365.85 500.4 L371.96 501 L378.07 499.4 L384.18 496.99 L390.29 502.41 L396.4 501 L402.51 509.03 L408.62 507.83 L414.73 508.43 L420.85 511.84 L426.96 517.47 L433.07 516.46 L439.18 519.87 L445.29 508.03 L451.4 513.45 L457.51 514.86 L463.62 509.43 L469.73 508.63 L475.84 509.43 L481.96 510.24 L488.07 510.64 L494.18 509.84 L500.29 511.04 L506.4 512.65 L512.51 512.25 L518.62 511.44 L524.73 496.39 L530.84 490.96 L536.95 499 L543.07 502.41 L549.18 497.79 L555.29 492.37 L561.4 495.38 L567.51 497.39 L573.62 498.39 L579.73 498.19 L585.84 498.79 L591.95 502.81 L598.06 500.2 L604.18 502.41 L610.29 501 L616.4 501.4 L622.51 505.02 L628.62 498.39 L634.73 492.37 L640.84 497.39 L646.95 499 L653.06 505.02 L659.17 506.22 L665.29 506.82 L671.4 507.43 L677.51 507.03 L683.62 508.63 L689.73 500.2 L695.84 504.82 L701.95 505.82 L708.06 503.61 L714.17 503.41 L720.28 502.81 L726.4 503.01 L732.51 497.39 L738.62 472.9 L744.73 470.89 L750.84 467.27 L756.95 462.66 L763.06 460.65 L769.17 459.85 L775.28 478.32 L781.39 492.77 L787.51 485.74 L793.62 489.36 L799.73 489.76 L805.84 488.35 L811.95 482.93 L818.06 481.93 L824.17 485.34 L830.28 483.34 L836.39 477.31 L842.5 474.9 L848.62 472.7 L854.73 478.92 L860.84 475.91 L866.95 469.68 L873.06 471.89 L879.17 466.27 L885.28 460.65 L891.39 460.25 L897.5 458.44" fill="none" stroke="#7e57c2" stroke-width="1.2" stroke-linejoin="round" stroke-linecap="round" />
</g>
<path fill-rule="evenodd" fill="#eff0f6" d="M9 26H1070V564H9Z M11 28V562H1068V28Z"/>
<g stroke="#dedfe3" stroke-width="1" fill="none" shape-rendering="crispEdges">
<line x1="981.5" y1="28" x2="981.5" y2="562"/>
<line x1="11" y1="395.5" x2="1068" y2="395.5"/>
<line x1="11" y1="448.5" x2="1068" y2="448.5"/>
<line x1="11" y1="535.5" x2="1068" y2="535.5"/>
</g>
<g clip-path="url(#cax)">
<text x="991.2" y="34.6" font-size="12" fill="#131722" textLength="60.5" lengthAdjust="spacingAndGlyphs" >0.00012000</text>
<text x="991.2" y="84" font-size="12" fill="#131722" textLength="60.5" lengthAdjust="spacingAndGlyphs" >0.00010000</text>
<text x="991.2" y="138.6" font-size="12" fill="#131722" textLength="60.5" lengthAdjust="spacingAndGlyphs" >0.00008000</text>
<text x="991.2" y="199.3" font-size="12" fill="#131722" textLength="60.5" lengthAdjust="spacingAndGlyphs" >0.00006000</text>
<text x="991.2" y="232.2" font-size="12" fill="#131722" textLength="60.5" lengthAdjust="spacingAndGlyphs" >0.00005000</text>
<text x="991.2" y="268" font-size="12" fill="#131722" textLength="60.5" lengthAdjust="spacingAndGlyphs" >0.00004000</text>
<text x="991.2" y="305.6" font-size="12" fill="#131722" textLength="60.5" lengthAdjust="spacingAndGlyphs" >0.00003000</text>
<text x="991.2" y="337.9" font-size="12" fill="#131722" textLength="60.5" lengthAdjust="spacingAndGlyphs" >0.00002200</text>
<text x="991.2" y="373.1" font-size="12" fill="#131722" textLength="60.5" lengthAdjust="spacingAndGlyphs" >0.00001400</text>
</g>
<text x="991.2" y="413.6" font-size="12" fill="#131722" textLength="60.5" lengthAdjust="spacingAndGlyphs" >0.00001000</text>
<text x="991.2" y="445.5" font-size="12" fill="#131722" textLength="60.5" lengthAdjust="spacingAndGlyphs" >0.00000000</text>
<text x="991.2" y="476" font-size="12" fill="#131722" textLength="29.5" lengthAdjust="spacingAndGlyphs" >80.00</text>
<text x="991.2" y="521" font-size="12" fill="#131722" textLength="29.5" lengthAdjust="spacingAndGlyphs" >40.00</text>
<rect x="1011.5" y="33.5" width="27" height="18" rx="3" fill="#fff" stroke="#e0e3eb"/>
<text x="1014.8" y="46.8" font-size="12" fill="#131722" textLength="20.3" lengthAdjust="spacingAndGlyphs" >USD</text>
<path d="M981 104 H1057 a2 2 0 0 1 2 2 V133 a2 2 0 0 1 -2 2 H981 Z" fill="#26a69a"/>
<text x="991.2" y="116.5" font-size="12" fill="#fff" textLength="61" lengthAdjust="spacingAndGlyphs" font-weight="bold" >0.00008776</text>
<text x="991.2" y="130.4" font-size="12" fill="#e3f4f2" textLength="28.3" lengthAdjust="spacingAndGlyphs" stroke="#e3f4f2" stroke-width="0.3">05:51</text>
<text x="17.12" y="552.8" font-size="12" fill="#131722" text-anchor="middle" stroke="#131722" stroke-width="0.3">4</text>
<text x="127.12" y="552.8" font-size="12" fill="#131722" text-anchor="middle" >7</text>
<text x="273.78" y="552.8" font-size="12" fill="#131722" text-anchor="middle" stroke="#131722" stroke-width="0.3">11</text>
<text x="383.78" y="552.8" font-size="12" fill="#131722" text-anchor="middle" >14</text>
<text x="530.44" y="552.8" font-size="12" fill="#131722" text-anchor="middle" stroke="#131722" stroke-width="0.3">18</text>
<text x="640.44" y="552.8" font-size="12" fill="#131722" text-anchor="middle" >21</text>
<text x="787.11" y="552.8" font-size="12" fill="#131722" text-anchor="middle" stroke="#131722" stroke-width="0.3">25</text>
<text x="897.1" y="552.8" font-size="12" fill="#131722" text-anchor="middle" >28</text>
<text x="10.2" y="18.5" font-size="11.5" fill="#131722" textLength="50.6" lengthAdjust="spacingAndGlyphs" >CoinGape</text>
<text x="64.9" y="18.5" font-size="11.5" fill="#131722" textLength="49.7" lengthAdjust="spacingAndGlyphs" >published</text>
<text x="120.1" y="18.5" font-size="11.5" fill="#131722" textLength="12.4" lengthAdjust="spacingAndGlyphs" >on</text>
<text x="137.8" y="18.5" font-size="11.5" fill="#131722" textLength="92.7" lengthAdjust="spacingAndGlyphs" >TradingView.com,</text>
<text x="235.6" y="18.5" font-size="11.5" fill="#131722" textLength="19" lengthAdjust="spacingAndGlyphs" >Oct</text>
<text x="258.6" y="18.5" font-size="11.5" fill="#131722" textLength="15.5" lengthAdjust="spacingAndGlyphs" >28,</text>
<text x="278.6" y="18.5" font-size="11.5" fill="#131722" textLength="23.1" lengthAdjust="spacingAndGlyphs" >2021</text>
<text x="307.5" y="18.5" font-size="11.5" fill="#131722" textLength="27.6" lengthAdjust="spacingAndGlyphs" >03:54</text>
<text x="340.2" y="18.5" font-size="11.5" fill="#131722" textLength="21.1" lengthAdjust="spacingAndGlyphs" >UTC</text>
<text x="18" y="45.8" font-size="12" fill="#131722" textLength="28" lengthAdjust="spacingAndGlyphs" >Shiba</text>
<text x="50.4" y="45.8" font-size="12" fill="#131722" textLength="16" lengthAdjust="spacingAndGlyphs" >Inu</text>
<text x="73.2" y="45.8" font-size="12" fill="#131722" textLength="3.2" lengthAdjust="spacingAndGlyphs" >/</text>
<text x="80.6" y="45.8" font-size="12" fill="#131722" textLength="22.8" lengthAdjust="spacingAndGlyphs" >USD,</text>
<text x="109.4" y="45.8" font-size="12" fill="#131722" textLength="15.7" lengthAdjust="spacingAndGlyphs" >4h,</text>
<text x="130.7" y="45.8" font-size="12" fill="#131722" textLength="18.5" lengthAdjust="spacingAndGlyphs" >FTX</text>
<text x="157.5" y="45.8" font-size="12" fill="#131722" textLength="8.3" lengthAdjust="spacingAndGlyphs" >O</text>
<text x="166.7" y="45.8" font-size="12" fill="#26a69a" textLength="59.6" lengthAdjust="spacingAndGlyphs" >0.00007929</text>
<text x="233.9" y="45.8" font-size="12" fill="#131722" textLength="7.6" lengthAdjust="spacingAndGlyphs" >H</text>
<text x="242.7" y="45.8" font-size="12" fill="#26a69a" textLength="59.6" lengthAdjust="spacingAndGlyphs" >0.00008870</text>
<text x="310.5" y="45.8" font-size="12" fill="#131722" textLength="5.6" lengthAdjust="spacingAndGlyphs" >L</text>
<text x="316.1" y="45.8" font-size="12" fill="#26a69a" textLength="59.6" lengthAdjust="spacingAndGlyphs" >0.00007631</text>
<text x="384.5" y="45.8" font-size="12" fill="#131722" textLength="6.8" lengthAdjust="spacingAndGlyphs" >C</text>
<text x="392" y="45.8" font-size="12" fill="#26a69a" textLength="59.6" lengthAdjust="spacingAndGlyphs" >0.00008776</text>
<text x="460.6" y="45.8" font-size="12" fill="#26a69a" textLength="66.1" lengthAdjust="spacingAndGlyphs" >+0.00000847</text>
<text x="531.6" y="45.8" font-size="12" fill="#26a69a" textLength="50.5" lengthAdjust="spacingAndGlyphs" >(+10.68%)</text>
<text x="18" y="62.6" font-size="12" fill="#131722" textLength="15.9" lengthAdjust="spacingAndGlyphs" >MA</text>
<text x="38" y="62.6" font-size="12" fill="#131722" textLength="18" lengthAdjust="spacingAndGlyphs" >(50,</text>
<text x="62.1" y="62.6" font-size="12" fill="#131722" textLength="30.6" lengthAdjust="spacingAndGlyphs" >close,</text>
<text x="96.4" y="62.6" font-size="12" fill="#131722" textLength="11.1" lengthAdjust="spacingAndGlyphs" >0)</text>
<text x="115.8" y="62.6" font-size="12" fill="#ffeb3b" textLength="59.4" lengthAdjust="spacingAndGlyphs" >0.00003861</text>
<text x="18" y="79.4" font-size="12" fill="#131722" textLength="15.9" lengthAdjust="spacingAndGlyphs" >Vol</text>
<text x="42.3" y="79.4" font-size="12" fill="#26a69a" textLength="43.9" lengthAdjust="spacingAndGlyphs" >12.406M</text>
<text x="18" y="96.3" font-size="12" fill="#131722" textLength="15.9" lengthAdjust="spacingAndGlyphs" >MA</text>
<text x="38" y="96.3" font-size="12" fill="#131722" textLength="24.7" lengthAdjust="spacingAndGlyphs" >(100,</text>
<text x="68.6" y="96.3" font-size="12" fill="#131722" textLength="30.6" lengthAdjust="spacingAndGlyphs" >close,</text>
<text x="103.4" y="96.3" font-size="12" fill="#131722" textLength="10.6" lengthAdjust="spacingAndGlyphs" >0)</text>
<text x="122" y="96.3" font-size="12" fill="#2196f3" textLength="60.6" lengthAdjust="spacingAndGlyphs" >0.00003316</text>
<text x="18" y="113.2" font-size="12" fill="#131722" textLength="15.9" lengthAdjust="spacingAndGlyphs" >MA</text>
<text x="38" y="113.2" font-size="12" fill="#131722" textLength="24.7" lengthAdjust="spacingAndGlyphs" >(200,</text>
<text x="68.6" y="113.2" font-size="12" fill="#131722" textLength="30.6" lengthAdjust="spacingAndGlyphs" >close,</text>
<text x="103.4" y="113.2" font-size="12" fill="#131722" textLength="10.6" lengthAdjust="spacingAndGlyphs" >0)</text>
<text x="122" y="113.2" font-size="12" fill="#9c27b0" textLength="60.6" lengthAdjust="spacingAndGlyphs" >0.00002372</text>
<text x="18.1" y="415" font-size="12" fill="#131722" textLength="30.1" lengthAdjust="spacingAndGlyphs" >MACD</text>
<text x="52.6" y="415" font-size="12" fill="#131722" textLength="19.3" lengthAdjust="spacingAndGlyphs" >(12,</text>
<text x="77.3" y="415" font-size="12" fill="#131722" textLength="14" lengthAdjust="spacingAndGlyphs" >26,</text>
<text x="97.4" y="415" font-size="12" fill="#131722" textLength="31.1" lengthAdjust="spacingAndGlyphs" >close,</text>
<text x="133.5" y="415" font-size="12" fill="#131722" textLength="8" lengthAdjust="spacingAndGlyphs" >9,</text>
<text x="147.6" y="415" font-size="12" fill="#131722" textLength="24.1" lengthAdjust="spacingAndGlyphs" >EMA,</text>
<text x="177.1" y="415" font-size="12" fill="#131722" textLength="25.7" lengthAdjust="spacingAndGlyphs" >EMA)</text>
<text x="210.5" y="415" font-size="12" fill="#26a69a" textLength="60.1" lengthAdjust="spacingAndGlyphs" >0.00000392</text>
<text x="279.2" y="415" font-size="12" fill="#2962ff" textLength="60.7" lengthAdjust="spacingAndGlyphs" >0.00001117</text>
<text x="347.5" y="415" font-size="12" fill="#ff6d00" textLength="60.8" lengthAdjust="spacingAndGlyphs" >0.00000724</text>
<text x="18.1" y="467.8" font-size="12" fill="#131722" textLength="15.6" lengthAdjust="spacingAndGlyphs" >RSI</text>
<text x="38.5" y="467.8" font-size="12" fill="#131722" textLength="19.7" lengthAdjust="spacingAndGlyphs" >(14,</text>
<text x="63.2" y="467.8" font-size="12" fill="#131722" textLength="30.8" lengthAdjust="spacingAndGlyphs" >close)</text>
<text x="102.4" y="467.8" font-size="12" fill="#7e57c2" textLength="28.1" lengthAdjust="spacingAndGlyphs" >91.93</text>
<g transform="translate(10.1,572.9) scale(0.539)" fill="#1e222d"><path d="M14 22H7V11H0V4h14v18zM28 22h-8l7.5-18h8L28 22z"/><circle cx="20" cy="8" r="4"/></g>
<text x="34" y="584.6" font-size="13" fill="#1e222d" textLength="68.9" lengthAdjust="spacingAndGlyphs" >TradingView</text>
</svg>
</body></html>
